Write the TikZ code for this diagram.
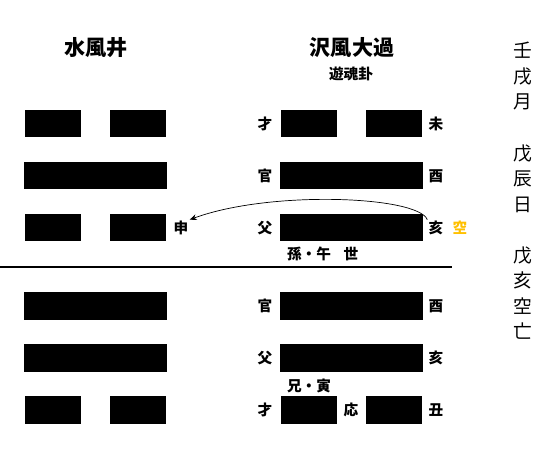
\documentclass[tikz,border=0pt]{standalone}
\usepackage{fontspec}
\setmainfont{Noto Sans CJK JP}
\usepackage{xcolor}
\usetikzlibrary{arrows.meta}
\definecolor{kuugold}{RGB}{255,192,0}

\begin{document}
\begin{tikzpicture}[x=0.03cm, y=-0.03cm,
        yang/.style={rectangle, fill=black, inner sep=0pt, minimum width=4.26cm, minimum height=0.81cm},
        yin/.style={rectangle, fill=black, inner sep=0pt, minimum width=1.68cm, minimum height=0.81cm},
        lbl/.style={font=\bfseries\fontsize{12.5}{14}\selectfont, inner sep=1pt},
        title/.style={font=\bfseries\fontsize{18}{20}\selectfont}]
        \useasboundingbox (0,0) rectangle (552,453);

        \node[title] (leftname) at (96,48) {水風井};
        \node[title] (rightname) at (352,48) {沢風大過};
        \node[lbl] (yukon) at (351,74) {遊魂卦};

        % left hexagram
        \node[yin] (l1a) at (53,124) {};
        \node[yin] (l1b) at (138,124) {};
        \node[yang] (l2) at (95.5,176) {};
        \node[yin] (l3a) at (53,228) {};
        \node[yin] (l3b) at (138,228) {};
        \node[yang] (l4) at (95.5,306) {};
        \node[yang] (l5) at (95.5,358) {};
        \node[yin] (l6a) at (53,410) {};
        \node[yin] (l6b) at (138,410) {};
        \node[lbl] (shen) at (181,228) {申};

        % right hexagram
        \node[yin] (r1a) at (309,124) {};
        \node[yin] (r1b) at (394,124) {};
        \node[yang] (r2) at (351.5,176) {};
        \node[yang] (r3) at (351.5,228) {};
        \node[yang] (r4) at (351.5,306) {};
        \node[yang] (r5) at (351.5,358) {};
        \node[yin] (r6a) at (309,410) {};
        \node[yin] (r6b) at (394,410) {};

        \node[lbl] (sai1) at (265,124) {才};
        \node[lbl] (kan1) at (265,176) {官};
        \node[lbl] (fu1) at (265,228) {父};
        \node[lbl] (kan2) at (265,306) {官};
        \node[lbl] (fu2) at (265,358) {父};
        \node[lbl] (sai2) at (265,410) {才};
        \node[lbl] (hitsuji) at (436,124) {未};
        \node[lbl] (tori1) at (436,176) {酉};
        \node[lbl] (hai) at (436,228) {亥};
        \node[lbl] (tori2) at (436,306) {酉};
        \node[lbl] (hai2) at (436,358) {亥};
        \node[lbl] (ushi) at (436,410) {丑};
        \node[lbl, text=kuugold] (kuu) at (460,228) {空};
        \node[lbl] (songo) at (309,254) {孫・午};
        \node[lbl] (sei) at (351,254) {世};
        \node[lbl] (keiin) at (309,386) {兄・寅};
        \node[lbl] (ou) at (351,410) {応};

        \draw[line width=1.6pt] (0,267) -- (452,267);

        \draw[-{Stealth[length=6pt,width=5pt]}, line width=0.6pt] (hai.north west) .. controls (418,196) and (270,190) .. (shen.north east);

        \node[align=center, font=\fontsize{16}{21.8}\selectfont] (kuubou) at (523,191) {壬\\戌\\月\\\mbox{}\\戊\\辰\\日\\\mbox{}\\戊\\亥\\空\\亡};
    \end{tikzpicture}
\end{document}
